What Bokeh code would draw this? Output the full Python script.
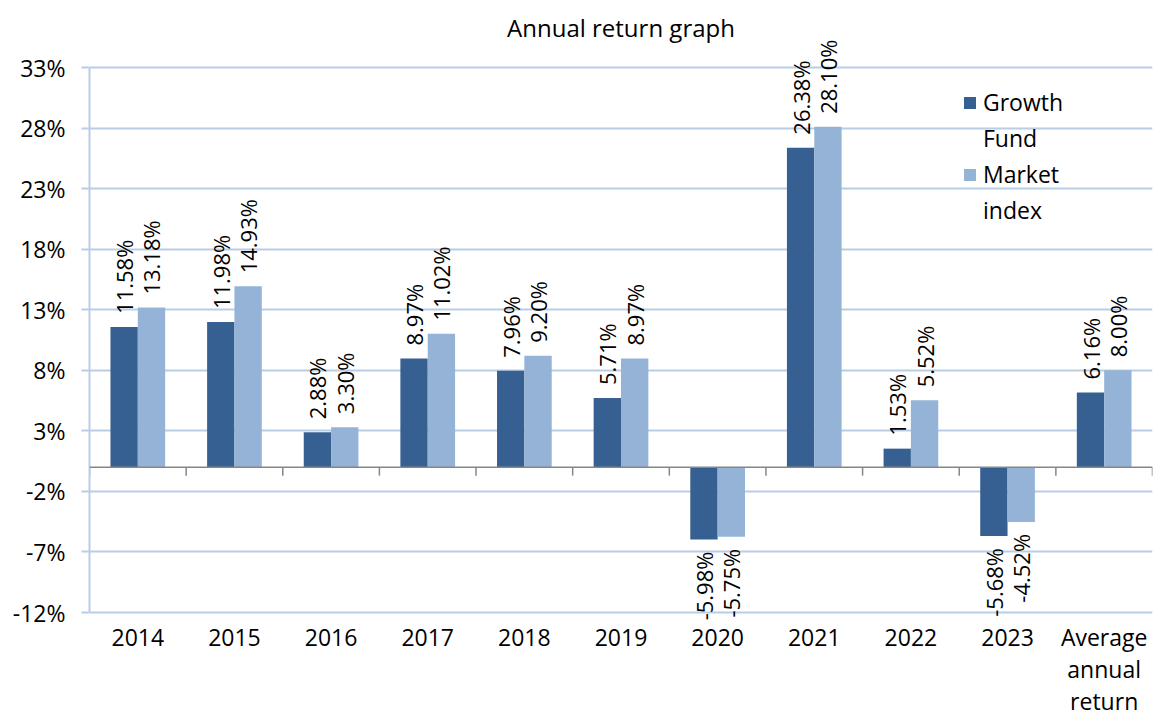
import math
from bokeh.plotting import figure
from bokeh.models import (ColumnDataSource, FactorRange, Range1d, FixedTicker,
                          PrintfTickFormatter, Legend, LegendItem, Span, Label)
from bokeh.transform import dodge
from bokeh.embed import file_html
from bokeh.resources import INLINE

title_text = "Annual return graph"
categories = ["2014", "2015", "2016", "2017", "2018", "2019", "2020", "2021",
              "2022", "2023", "Average\nannual\nreturn"]
growth_fund = [11.58, 11.98, 2.88, 8.97, 7.96, 5.71, -5.98, 26.38, 1.53, -5.68, 6.16]
market_index = [13.18, 14.93, 3.30, 11.02, 9.20, 8.97, -5.75, 28.10, 5.52, -4.52, 8.00]
y_ticks = [-12, -7, -2, 3, 8, 13, 18, 23, 28, 33]
y_min, y_max = -12, 33

DARK = "#376092"
LIGHT = "#95B3D7"
GRID = "#B9CDE5"
FONT = "Open Sans"
FS = "23px"
TXT = "#000000"

# layout (pixels): the frame fills the canvas top so that labels above it are not clipped;
# the value axis itself spans y_max at PX_TOP down to y_min at PX_BOT.
H = 720
BORDER_BOTTOM = 100
PX_TOP, PX_BOT = 67, 612
frame_bottom = H - BORDER_BOTTOM
scale = (PX_BOT - PX_TOP) / (y_max - y_min)
range_top = y_max + PX_TOP / scale
range_bottom = y_min - (frame_bottom - PX_BOT) / scale

src = ColumnDataSource(dict(cat=categories, g=growth_fund, m=market_index))

p = figure(width=1154, height=H, x_range=FactorRange(*categories, range_padding=0),
           y_range=Range1d(range_bottom, range_top), output_backend="svg",
           toolbar_location=None,
           min_border_left=89, min_border_right=2, min_border_top=0,
           min_border_bottom=BORDER_BOTTOM)

BW = 0.283
D = 0.1415
r1 = p.vbar(x=dodge("cat", -D, range=p.x_range), top="g", bottom=0, width=BW,
            source=src, fill_color=DARK, line_color=None)
r2 = p.vbar(x=dodge("cat", D, range=p.x_range), top="m", bottom=0, width=BW,
            source=src, fill_color=LIGHT, line_color=None)

# zero line with category boundary ticks
p.add_layout(Span(location=0, dimension="width", line_color="#868686", line_width=1.5))
tick_src = ColumnDataSource(dict(cat=categories))
p.segment(x0=dodge("cat", -0.5, range=p.x_range), x1=dodge("cat", -0.5, range=p.x_range),
          y0=0, y1=-0.7, source=tick_src, line_color="#868686", line_width=1.5)
last_src = ColumnDataSource(dict(cat=categories[-1:]))
p.segment(x0=dodge("cat", 0.5, range=p.x_range), x1=dodge("cat", 0.5, range=p.x_range),
          y0=0, y1=-0.7, source=last_src, line_color="#868686", line_width=1.5)

# title, centred over the categories, 40 px above the top of the value axis
p.add_layout(Label(x=len(categories) / 2, y=y_max + 40 / scale, text=title_text,
                   text_align="center", text_baseline="middle",
                   text_font=FONT, text_font_size="24px", text_color=TXT))

# data labels (positioned in the categorical range's synthetic coordinates)
for i, (gv, mv) in enumerate(zip(growth_fund, market_index)):
    for v, off in ((gv, -D), (mv, D)):
        pos = v >= 0
        p.add_layout(Label(x=i + 0.5 + off, y=v, text=f"{v:.2f}%", angle=math.pi / 2,
                           y_offset=13 if pos else -12,
                           text_align="left" if pos else "right", text_baseline="middle",
                           text_font=FONT, text_font_size="22px", text_color=TXT))

# axes
p.yaxis.ticker = FixedTicker(ticks=y_ticks)
p.yaxis.bounds = (y_min, y_max)
p.yaxis.formatter = PrintfTickFormatter(format="%d%%")
p.yaxis.axis_line_color = GRID
p.yaxis.axis_line_width = 2
p.yaxis.major_tick_line_color = GRID
p.yaxis.major_tick_line_width = 2
p.yaxis.major_tick_in = 0
p.yaxis.major_tick_out = 8
p.yaxis.minor_tick_line_color = None
p.yaxis.major_label_standoff = 16
p.yaxis.major_label_text_font = FONT
p.yaxis.major_label_text_font_size = FS
p.yaxis.major_label_text_color = TXT

p.xaxis.axis_line_color = None
p.xaxis.major_tick_line_color = None
p.xaxis.major_tick_in = 0
p.xaxis.major_tick_out = 0
p.xaxis.minor_tick_line_color = None
p.xaxis.minor_tick_out = 0
p.xaxis.major_label_standoff = 0
p.xaxis.major_label_text_font = FONT
p.xaxis.major_label_text_font_size = FS
p.xaxis.major_label_text_color = TXT
p.xaxis.major_label_text_line_height = 1.0

p.xgrid.grid_line_color = None
p.ygrid.grid_line_color = GRID
p.ygrid.grid_line_width = 2
p.outline_line_color = None

# legend: glyph beside the first line of each two-line label
blank = p.vbar(x=[], top=[], width=0.1, fill_alpha=0, line_alpha=0)
legend = Legend(items=[LegendItem(label="Growth", renderers=[r1]),
                       LegendItem(label="Fund", renderers=[blank]),
                       LegendItem(label="Market", renderers=[r2]),
                       LegendItem(label="index", renderers=[blank])],
                location=(873, frame_bottom - 226), glyph_width=15, glyph_height=15,
                label_standoff=6, spacing=4, padding=0, margin=0,
                label_text_font=FONT, label_text_font_size=FS,
                label_text_color=TXT, label_text_line_height=1.0,
                background_fill_alpha=0, border_line_color=None)
p.add_layout(legend)

open("out.html", "w").write(file_html(p, INLINE))
